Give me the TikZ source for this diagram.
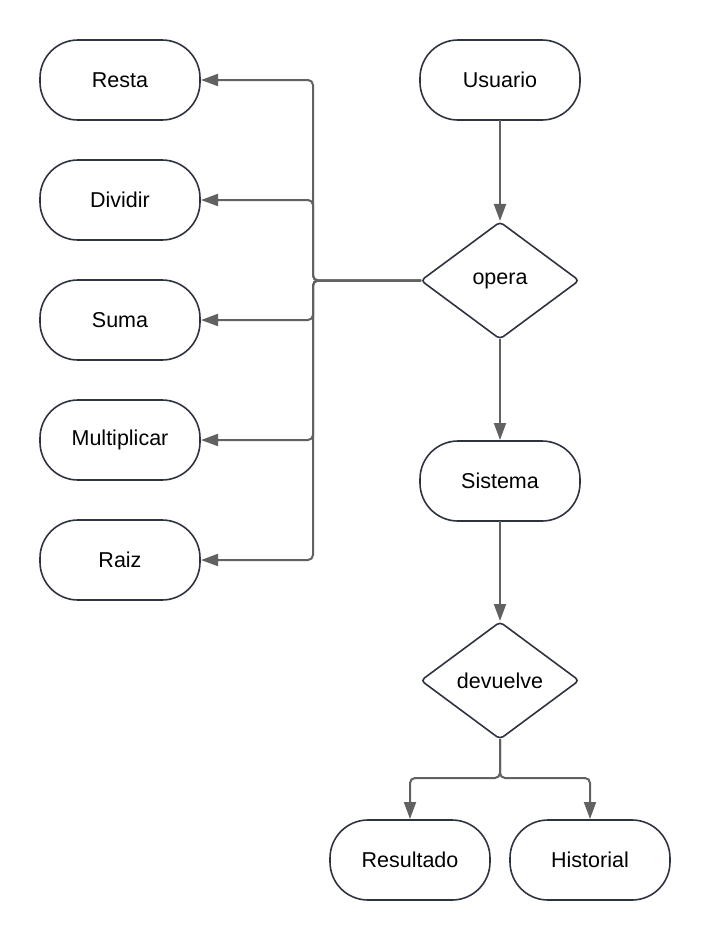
\documentclass[tikz,border=0pt]{standalone}
\usepackage{fontspec}
\setmainfont{Liberation Sans}
\usepackage{tikz}
\usetikzlibrary{arrows.meta,shapes.geometric,positioning}

\definecolor{edgegray}{HTML}{616161}
\definecolor{boxline}{HTML}{2E3340}

\tikzset{
  term/.style={draw=boxline, line width=1.6pt, rectangle, rounded corners=38pt,
    minimum width=160pt, minimum height=80pt, inner sep=0pt, outer sep=0pt,
    align=center, font=\fontsize{21.5}{25}\selectfont},
  decision/.style={draw=boxline, line width=1.6pt, diamond, rounded corners=4pt,
    minimum width=158pt, minimum height=117pt, inner sep=0pt, outer sep=0pt,
    align=center, font=\fontsize{21.5}{25}\selectfont},
  flow/.style={draw=edgegray, line width=2pt, rounded corners=5pt,
    -{Triangle[length=17pt,width=12pt]}, shorten >=1pt},
}

\begin{document}
\begin{tikzpicture}
\useasboundingbox (0,0) rectangle (710pt,-940pt);

% left column
\node[term](resta) at (120pt,-80pt) {Resta};
\node[term, below=40pt of resta](dividir) {Dividir};
\node[term, below=40pt of dividir](suma) {Suma};
\node[term, below=40pt of suma](multi) {Multiplicar};
\node[term, below=40pt of multi](raiz) {Raiz};

% main flow
\node[term](usuario) at (500pt,-80pt) {Usuario};
\node[decision, below=102pt of usuario](opera) {opera};
\node[term, below=102pt of opera](sistema) {Sistema};
\node[decision, below=101pt of sistema](devuelve) {devuelve};
\node[term, below=81pt of devuelve, xshift=-90pt](resultado) {Resultado};
\node[term, below=81pt of devuelve, xshift=90pt](historial) {Historial};

\coordinate[left=108pt of opera.west](bus);
\coordinate[below=39pt of devuelve.south](split);

\draw[flow] (usuario) -- (opera);
\draw[flow] (opera.west) -- (bus) |- (resta.east);
\draw[flow] (opera.west) -- (bus) |- (dividir.east);
\draw[flow] (opera.west) -- (bus) |- (suma.east);
\draw[flow] (opera.west) -- (bus) |- (multi.east);
\draw[flow] (opera.west) -- (bus) |- (raiz.east);
\draw[flow] (opera) -- (sistema);
\draw[flow] (sistema) -- (devuelve);
\draw[flow] (devuelve.south) -- (split) -| (resultado.north);
\draw[flow] (devuelve.south) -- (split) -| (historial.north);
\end{tikzpicture}
\end{document}
